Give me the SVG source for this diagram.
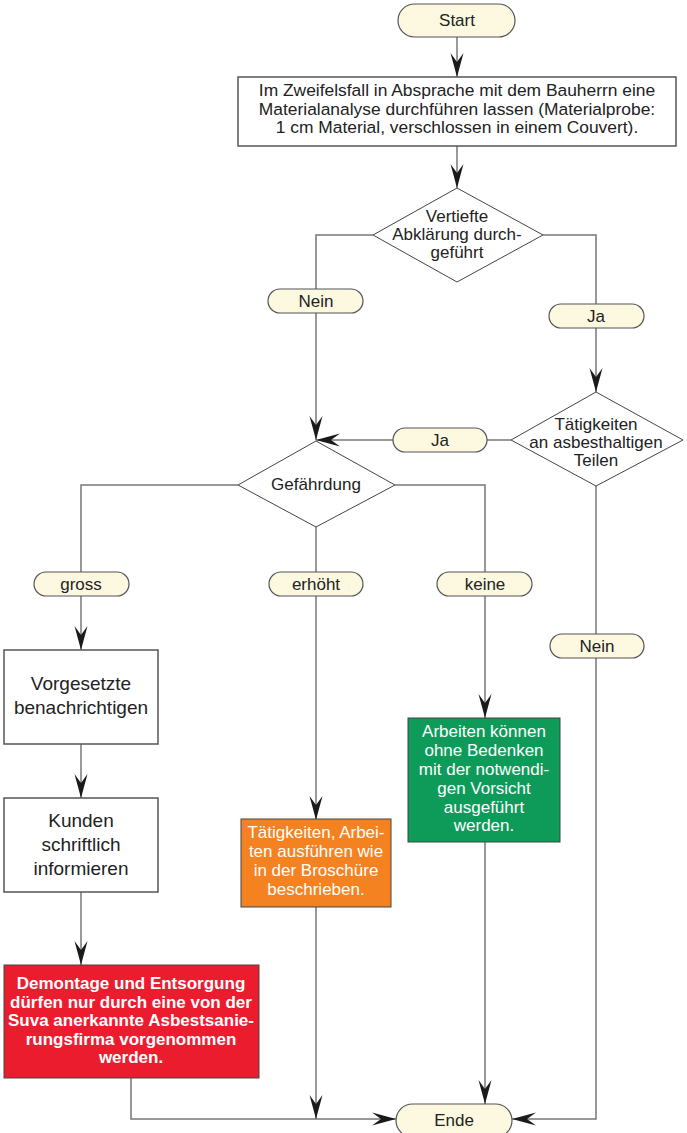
<svg xmlns="http://www.w3.org/2000/svg" width="687" height="1133" viewBox="0 0 687 1133">
<style>
text{font-family:"Liberation Sans",Arial,sans-serif;font-size:17px;fill:#222;text-anchor:middle}
.pill{fill:#fdf9e1;stroke:#555;stroke-width:1.2}
.box{fill:#fff;stroke:#555;stroke-width:1.5}
.dia{fill:#fff;stroke:#444;stroke-width:1}
.big{font-size:19px}
.mid{font-size:17.4px}
.w{fill:#fff}
.b{font-weight:bold}
.ln{fill:none;stroke:#777;stroke-width:1.5}
.arr{fill:none;stroke:#777;stroke-width:1.5;marker-end:url(#ah)}
</style>
<defs>
<marker id="ah" markerUnits="userSpaceOnUse" markerWidth="26" markerHeight="14" viewBox="-24 -7 25 14" refX="0" refY="0" orient="auto">
<path d="M0,0 L-24,-6.5 L-15,0 L-24,6.5 Z" fill="#1a1a1a"/>
</marker>
</defs>
<g id="connectors">
<path class="arr" d="M457,37 V77"/>
<path class="arr" d="M457,146 V188"/>
<path class="ln" d="M373,235 H316 V289"/>
<path class="arr" d="M316,313 V440"/>
<path class="ln" d="M543,235 H596 V304"/>
<path class="arr" d="M596,328 V392"/>
<path class="ln" d="M511,440 H487"/>
<path class="arr" d="M393,440 H316"/>
<path class="ln" d="M238,485 H81 V572"/>
<path class="arr" d="M81,596 V650"/>
<path class="arr" d="M81,744 V798"/>
<path class="arr" d="M81,892 V965"/>
<path class="ln" d="M316,527 V572"/>
<path class="arr" d="M316,596 V820"/>
<path class="ln" d="M395,485 H485 V572"/>
<path class="arr" d="M485,596 V718"/>
<path class="ln" d="M596,486 V634"/>
<path class="arr" d="M596,658 V1119 H512"/>
<path class="arr" d="M131,1078 V1119 H396"/>
<path class="arr" d="M316,907 V1119"/>
<path class="arr" d="M485,842 V1104"/>
</g>
<g id="start">
<rect class="pill" x="398" y="4" width="117" height="33" rx="16.5"/>
<text x="457" y="26">Start</text>
</g>
<g id="analyse">
<rect class="box" x="238" y="77" width="438" height="69"/>
<text class="mid" x="457" y="96">Im Zweifelsfall in Absprache mit dem Bauherrn eine</text>
<text class="mid" x="457" y="115">Materialanalyse durchführen lassen (Materialprobe:</text>
<text class="mid" x="457" y="133">1 cm Material, verschlossen in einem Couvert).</text>
</g>
<g id="abklaerung">
<polygon class="dia" points="457,188 543,235 457,282 373,235"/>
<text x="457" y="222">Vertiefte</text>
<text x="457" y="240">Abklärung durch-</text>
<text x="457" y="258">geführt</text>
</g>
<g id="nein1">
<rect class="pill" x="268" y="289" width="95" height="24" rx="12"/>
<text x="316" y="307">Nein</text>
</g>
<g id="ja1">
<rect class="pill" x="549" y="304" width="95" height="24" rx="12"/>
<text x="596" y="322">Ja</text>
</g>
<g id="taetigkeiten">
<polygon class="dia" points="596,392 683,440 596,486 511,440"/>
<text x="596" y="430">Tätigkeiten</text>
<text x="596" y="448">an asbesthaltigen</text>
<text x="596" y="466">Teilen</text>
</g>
<g id="ja2">
<rect class="pill" x="393" y="428" width="94" height="24" rx="12"/>
<text x="440" y="446">Ja</text>
</g>
<g id="gefaehrdung">
<polygon class="dia" points="316,441 395,485 316,527 238,485"/>
<text x="316" y="490">Gefährdung</text>
</g>
<g id="gross">
<rect class="pill" x="34" y="572" width="95" height="24" rx="12"/>
<text x="81" y="590">gross</text>
</g>
<g id="erhoeht">
<rect class="pill" x="269" y="572" width="94" height="24" rx="12"/>
<text x="316" y="590">erhöht</text>
</g>
<g id="keine">
<rect class="pill" x="437" y="572" width="95" height="24" rx="12"/>
<text x="485" y="590">keine</text>
</g>
<g id="nein2">
<rect class="pill" x="550" y="634" width="94" height="24" rx="12"/>
<text x="597" y="652">Nein</text>
</g>
<g id="vorgesetzte">
<rect class="box" x="4" y="650" width="154" height="94"/>
<text class="big" x="81" y="690">Vorgesetzte</text>
<text class="big" x="81" y="714">benachrichtigen</text>
</g>
<g id="kunden">
<rect class="box" x="4" y="798" width="154" height="94"/>
<text class="big" x="81" y="827">Kunden</text>
<text class="big" x="81" y="851">schriftlich</text>
<text class="big" x="81" y="875">informieren</text>
</g>
<g id="demontage">
<rect x="4" y="965" width="255" height="113" fill="#ec1c2f" stroke="#444" stroke-width="1"/>
<text class="w b" x="131" y="989">Demontage und Entsorgung</text>
<text class="w b" x="131" y="1008">dürfen nur durch eine von der</text>
<text class="w b" x="131" y="1026">Suva anerkannte Asbestsanie-</text>
<text class="w b" x="131" y="1045">rungsfirma vorgenommen</text>
<text class="w b" x="131" y="1063">werden.</text>
</g>
<g id="broschuere">
<rect x="241" y="819" width="150" height="88" fill="#f58220" stroke="#444" stroke-width="1"/>
<text class="w" x="316" y="838">Tätigkeiten, Arbei-</text>
<text class="w" x="316" y="857">ten ausführen wie</text>
<text class="w" x="316" y="876">in der Broschüre</text>
<text class="w" x="316" y="895">beschrieben.</text>
</g>
<g id="ohne-bedenken">
<rect x="408" y="718" width="152" height="124" fill="#0e9b5a" stroke="#444" stroke-width="1"/>
<text class="w" x="484" y="737">Arbeiten können</text>
<text class="w" x="484" y="756">ohne Bedenken</text>
<text class="w" x="484" y="775">mit der notwendi-</text>
<text class="w" x="484" y="794">gen Vorsicht</text>
<text class="w" x="484" y="813">ausgeführt</text>
<text class="w" x="484" y="831">werden.</text>
</g>
<g id="ende">
<rect class="pill" x="396" y="1104" width="116" height="33" rx="16.5"/>
<text x="454" y="1126">Ende</text>
</g>
</svg>
